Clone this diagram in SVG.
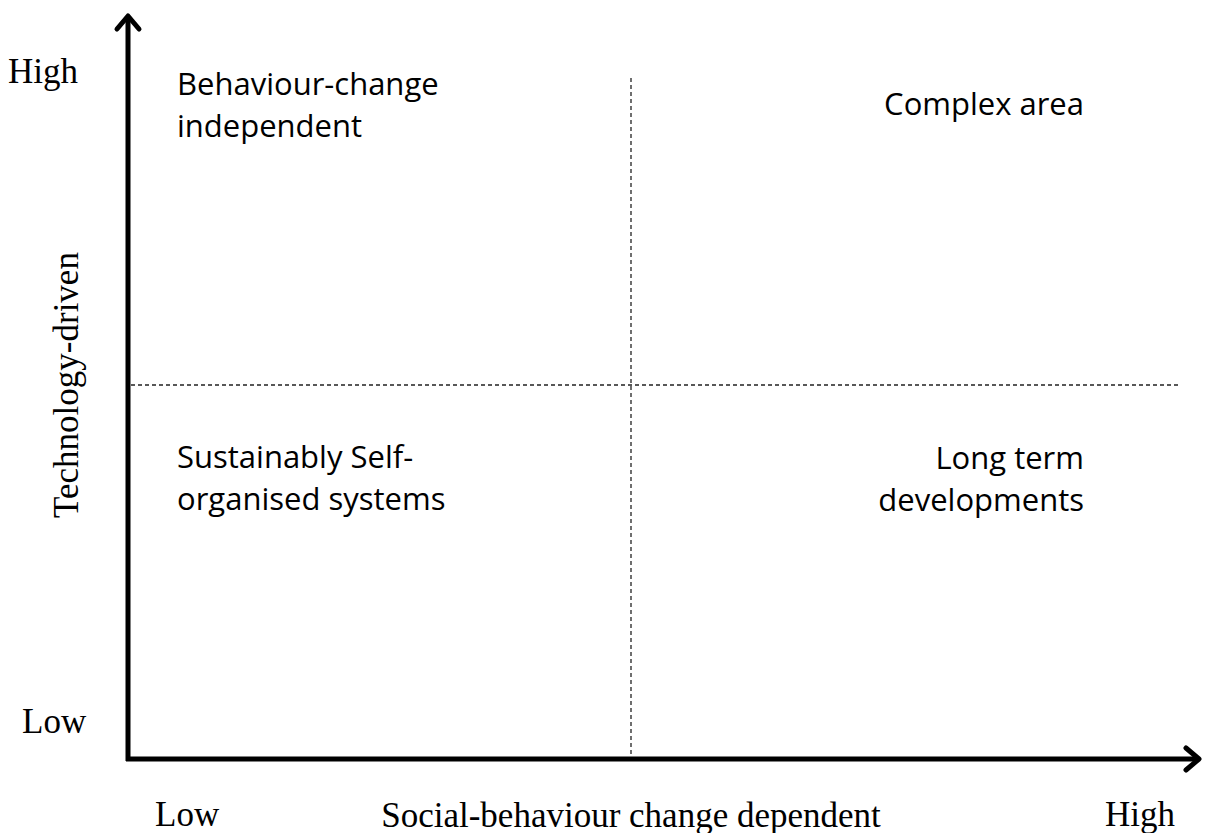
<svg xmlns="http://www.w3.org/2000/svg" width="1205" height="833" viewBox="0 0 1205 833">
  <style>
    .axis { stroke: #000; stroke-width: 5; fill: none; }
    .grid { stroke: #222; stroke-width: 1.3; stroke-dasharray: 4 3; fill: none; }
    .lab { font-family: "Liberation Serif", "Times New Roman", serif; font-size: 35px; fill: #000; }
    .quad { font-family: "Open Sans", "Liberation Sans", sans-serif; font-size: 31px; fill: #000; }
  </style>
  <defs>
    <!-- open chevron arrowhead, sized in user units -->
    <marker id="arrow" viewBox="0 0 24 30" refX="20" refY="15" markerWidth="24" markerHeight="30" orient="auto" markerUnits="userSpaceOnUse">
      <path d="M7,4 L20,15 L7,26" fill="none" stroke="#000" stroke-width="5" stroke-linecap="round" stroke-linejoin="round"/>
    </marker>
  </defs>
  <g id="connectors">
    <line class="grid" x1="631" y1="78" x2="631" y2="757"/>
    <line class="grid" x1="131" y1="385" x2="1180" y2="385"/>
    <line class="axis" x1="128" y1="761" x2="128" y2="16" marker-end="url(#arrow)"/>
    <line class="axis" x1="126" y1="759" x2="1199" y2="759" marker-end="url(#arrow)"/>
  </g>
  <g id="axis-labels">
    <text class="lab" x="8" y="83">High</text>
    <text class="lab" x="22" y="733">Low</text>
    <text class="lab" x="155" y="826">Low</text>
    <text class="lab" x="1105" y="826">High</text>
    <text class="lab" x="631" y="827" text-anchor="middle">Social-behaviour change dependent</text>
    <text class="lab" x="78" y="385" text-anchor="middle" transform="rotate(-90 78 385)">Technology-driven</text>
  </g>
  <g id="q-top-left">
    <text class="quad" x="177" y="95">Behaviour-change</text>
    <text class="quad" x="177" y="137">independent</text>
  </g>
  <g id="q-top-right">
    <text class="quad" x="1084" y="115" text-anchor="end">Complex area</text>
  </g>
  <g id="q-bottom-left">
    <text class="quad" x="177" y="468">Sustainably Self-</text>
    <text class="quad" x="177" y="510">organised systems</text>
  </g>
  <g id="q-bottom-right">
    <text class="quad" x="1084" y="469" text-anchor="end">Long term</text>
    <text class="quad" x="1084" y="511" text-anchor="end">developments</text>
  </g>
</svg>
